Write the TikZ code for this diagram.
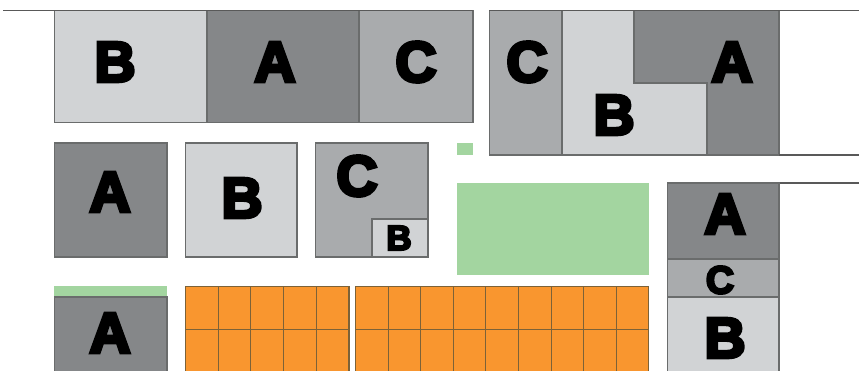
\documentclass[tikz,border=0pt]{standalone}
\usepackage{fontspec}
\usepackage{tikz}
\newfontfamily\lettfont[FakeBold=6]{Liberation Sans Bold}
\definecolor{zonea}{HTML}{858789}
\definecolor{zoneb}{HTML}{D1D3D5}
\definecolor{zonec}{HTML}{A9ABAD}
\definecolor{zoneg}{HTML}{A3D5A0}
\definecolor{zoneo}{HTML}{F9962F}
\definecolor{edge}{HTML}{6A6C6C}
\definecolor{seatline}{HTML}{7C6238}

\begin{document}
\begin{tikzpicture}[
  x=1pt,y=-1pt,
  wall/.style={draw=edge,line width=1.1pt},
  rim/.style={draw=black!65,line width=1.8pt},
  blka/.style={wall,fill=zonea},
  blkb/.style={wall,fill=zoneb},
  blkc/.style={wall,fill=zonec},
  plant/.style={fill=zoneg},
  seat/.style={draw=seatline,line width=1.1pt,fill=zoneo},
  big/.style={font=\lettfont\fontsize{57}{57}\selectfont,inner sep=0pt},
  mid/.style={font=\lettfont\fontsize{39}{39}\selectfont,inner sep=0pt},
  small/.style={font=\lettfont\fontsize{35}{35}\selectfont,inner sep=0pt}
]
  \useasboundingbox (0,0) rectangle (859,371);
  \clip (0,0) rectangle (859,371);

  % top row
  \draw[blkb] (54.5,10.5) rectangle (207,122.5);
  \draw[blka] (207,10.5) rectangle (359,122.5);
  \draw[blkc] (359,10.5) rectangle (473,122.5);
  \node[big] (b1) at (115,62) {B};
  \node[big] (a1) at (275,62) {A};
  \node[big] (c1) at (416,62) {C};

  % top right block
  \draw[blkc] (489.5,10.5) rectangle (562,155);
  \draw[blkb] (562,10.5) -- (634,10.5) -- (634,83) -- (707,83) -- (707,155) -- (562,155) -- cycle;
  \draw[blka] (634,10.5) -- (779,10.5) -- (779,155) -- (707,155) -- (707,83) -- (634,83) -- cycle;
  \node[big] (c2) at (527,62) {C};
  \node[big] (b2) at (614,115) {B};
  \node[big] (a2) at (732,62) {A};

  % outer lines
  \draw[rim] (3,10.5) -- (473,10.5);
  \draw[rim] (489,10.5) -- (859,10.5);
  \draw[rim] (779,155) -- (859,155);
  \draw[rim] (779,183) -- (859,183);

  % middle row
  \draw[blka] (54.5,143) rectangle (167,257);
  \draw[blkb] (185.5,143) rectangle (297,257);
  \draw[blkc] (315.5,143) rectangle (428,257);
  \draw[blkb] (372,219) rectangle (428,257);
  \node[big] (a3) at (110,192) {A};
  \node[big] (b3) at (242,198) {B};
  \node[big] (c3) at (357,176) {C};
  \node[small] (b4) at (399,238) {B};

  % green areas
  \fill[plant] (457,143) rectangle (473,155);
  \fill[plant] (457,183) rectangle (649,275);
  \fill[plant] (54,286) rectangle (167,297);

  % right column
  \draw[blka] (667.5,183) rectangle (779,259);
  \draw[blkc] (667.5,259) rectangle (779,297);
  \draw[blkb] (667.5,297) rectangle (779,380);
  \node[big] (a4) at (725,214) {A};
  \node[mid] (c4) at (720,280) {C};
  \node[big] (b5) at (725,338) {B};

  % bottom row
  \draw[blka] (54.5,297) rectangle (167,380);
  \node[big] (a5) at (110,333) {A};
  \foreach \col in {0,...,4}
    \foreach \row in {0,1}
      \draw[seat] ({185.5+32.7*\col},{286.5+43*\row}) rectangle ++(32.7,43);
  \foreach \col in {0,...,8}
    \foreach \row in {0,1}
      \draw[seat] ({355.5+32.6*\col},{286.5+43*\row}) rectangle ++(32.6,43);
\end{tikzpicture}
\end{document}
